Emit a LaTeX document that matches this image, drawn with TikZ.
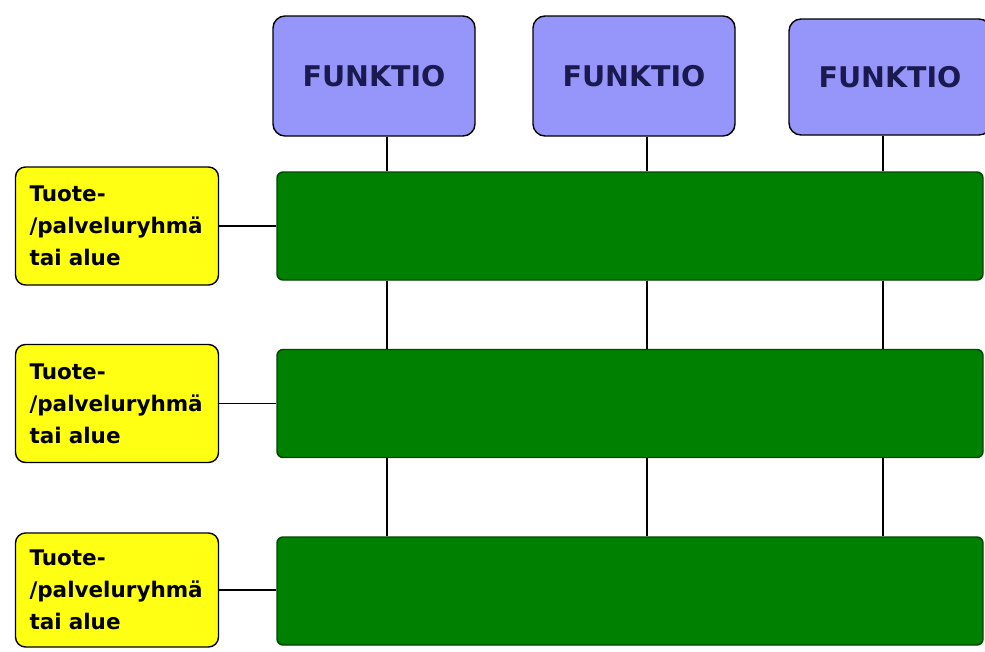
\documentclass[tikz,border=0pt]{standalone}
\usepackage{fontspec}
\setmainfont{DejaVu Sans}
\definecolor{funcfill}{RGB}{150,150,250}
\definecolor{functext}{RGB}{26,26,80}
\definecolor{barfill}{RGB}{0,128,0}
\definecolor{barline}{RGB}{0,70,0}
\definecolor{areafill}{RGB}{255,255,20}
\tikzset{
  funcbox/.style={draw=black, line width=1.4pt, fill=funcfill, rounded corners=12pt,
    minimum width=202pt, minimum height=120pt, inner sep=0pt,
    font=\fontsize{28.5}{30}\selectfont\bfseries, text=functext},
  barbox/.style={draw=barline, line width=1.4pt, fill=barfill, rounded corners=6pt,
    minimum width=706pt, minimum height=108pt, inner sep=0pt},
  areabox/.style={draw=black, line width=1.4pt, fill=areafill, rounded corners=10pt,
    text width=175pt, inner xsep=14pt, inner ysep=0pt, minimum height=118pt,
    align=left, font=\fontsize{21.5}{32}\selectfont\bfseries},
  link/.style={draw=black, line width=1.2pt}
}
\begin{document}
\begin{tikzpicture}[x=1pt,y=-1pt]
  \useasboundingbox (0,0) rectangle (985,651);
  \clip (0,0) rectangle (985,651);
  \fill[white] (0,0) rectangle (985,651);

  % anchor columns for the vertical links
  \coordinate (c1) at (387,0);
  \coordinate (c2) at (647,0);
  \coordinate (c3) at (883,0);

  % function boxes
  \node[funcbox] (f1) at (374,76) {FUNKTIO};
  \node[funcbox] (f2) at (634,76) {FUNKTIO};
  \node[funcbox, minimum height=116pt] (f3) at (890,77) {FUNKTIO};

  % green bars
  \node[barbox] (g1) at (630,226) {};
  \node[barbox] (g2) at (630,403.5) {};
  \node[barbox] (g3) at (630,591) {};

  % product / service group boxes
  \node[areabox] (a1) at (117,226) {Tuote-\\/palveluryhmä\\tai alue};
  \node[areabox] (a2) at (117,403.5) {Tuote-\\/palveluryhmä\\tai alue};
  \node[areabox, minimum height=114pt] (a3) at (117,590) {Tuote-\\/palveluryhmä\\tai alue};

  % vertical links
  \foreach \c/\f in {c1/f1, c2/f2, c3/f3} {
    \draw[link] (\f.south -| \c) -- (g1.north -| \c);
    \draw[link] (g1.south -| \c) -- (g2.north -| \c);
    \draw[link] (g2.south -| \c) -- (g3.north -| \c);
  }

  % horizontal links
  \draw[link] (a1.east) -- (g1.west |- a1.east);
  \draw[link] (a2.east) -- (g2.west |- a2.east);
  \draw[link] (a3.east) -- (g3.west |- a3.east);
\end{tikzpicture}
\end{document}
